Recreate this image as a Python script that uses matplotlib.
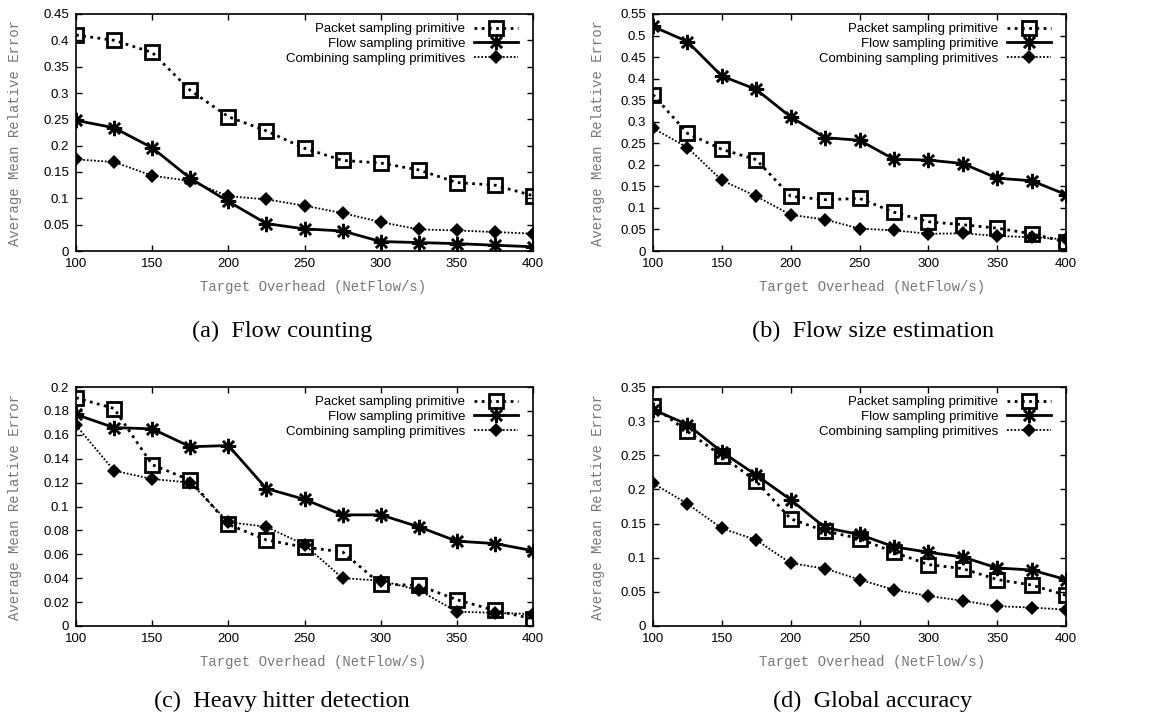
import numpy as np
import matplotlib
matplotlib.use("Agg")
import matplotlib.pyplot as plt

overhead = [100, 125, 150, 175, 200, 225, 250, 275, 300, 325, 350, 375, 400]

# (a) Flow counting
a_packet = [0.410, 0.400, 0.377, 0.305, 0.255, 0.228, 0.195, 0.172, 0.167, 0.154, 0.130, 0.125, 0.105]
a_flow = [0.248, 0.234, 0.196, 0.138, 0.094, 0.052, 0.042, 0.038, 0.018, 0.016, 0.014, 0.011, 0.008]
a_comb = [0.174, 0.169, 0.143, 0.133, 0.104, 0.098, 0.086, 0.072, 0.055, 0.041, 0.039, 0.036, 0.033]

# (b) Flow size estimation
b_packet = [0.363, 0.273, 0.236, 0.212, 0.127, 0.119, 0.122, 0.090, 0.068, 0.061, 0.053, 0.040, 0.021]
b_flow = [0.521, 0.486, 0.406, 0.375, 0.311, 0.263, 0.257, 0.213, 0.211, 0.203, 0.169, 0.163, 0.131]
b_comb = [0.285, 0.240, 0.164, 0.127, 0.084, 0.073, 0.052, 0.048, 0.040, 0.041, 0.035, 0.032, 0.027]

# (c) Heavy hitter detection
c_packet = [0.191, 0.182, 0.135, 0.122, 0.085, 0.072, 0.066, 0.062, 0.035, 0.034, 0.022, 0.013, 0.006]
c_flow = [0.177, 0.166, 0.165, 0.150, 0.151, 0.115, 0.106, 0.093, 0.093, 0.083, 0.071, 0.069, 0.063]
c_comb = [0.168, 0.130, 0.123, 0.120, 0.087, 0.083, 0.068, 0.040, 0.038, 0.030, 0.012, 0.011, 0.010]

# (d) Global accuracy
d_packet = [0.322, 0.285, 0.249, 0.212, 0.157, 0.139, 0.128, 0.108, 0.090, 0.084, 0.068, 0.060, 0.045]
d_flow = [0.317, 0.295, 0.255, 0.221, 0.185, 0.144, 0.134, 0.116, 0.108, 0.101, 0.085, 0.082, 0.068]
d_comb = [0.209, 0.179, 0.143, 0.126, 0.092, 0.084, 0.068, 0.053, 0.044, 0.037, 0.029, 0.027, 0.024]

labels = ["Packet sampling primitive", "Flow sampling primitive", "Combining sampling primitives"]
captions = ["(a)  Flow counting", "(b)  Flow size estimation",
            "(c)  Heavy hitter detection", "(d)  Global accuracy"]

panels = [
    (a_packet, a_flow, a_comb, 0.45, 0.05),
    (b_packet, b_flow, b_comb, 0.55, 0.05),
    (c_packet, c_flow, c_comb, 0.20, 0.02),
    (d_packet, d_flow, d_comb, 0.35, 0.05),
]

W, H = 1159, 720
fig = plt.figure(figsize=(W / 100, H / 100), dpi=100)

# axes boxes in pixels: left, right, top, bottom
boxes = [(76, 533, 14, 251), (653, 1066, 14, 251),
         (76, 533, 387, 626), (653, 1066, 387, 626)]
ylabel_x = [15, 598, 15, 598]
xlabel_xy = [(313, 287), (872, 287), (313, 662), (872, 662)]
caption_xy = [(282, 331), (873, 331), (282, 701), (873, 701)]

tick_font = "Liberation Sans"
mono_font = "Liberation Mono"
serif_font = "Liberation Serif"

for i, (packet, flow, comb, ymax, ystep) in enumerate(panels):
    l, r, t, b = boxes[i]
    w, h = r - l, b - t
    ax = fig.add_axes([l / W, 1 - b / H, w / W, h / H])

    ax.plot(overhead, packet, color="black", linestyle=(0, (1, 1.6)), linewidth=2.0,
            marker="s", markersize=9.5, markerfacecolor="none", markeredgewidth=2.0,
            label=labels[0])
    ax.plot(overhead, flow, color="black", linestyle="-", linewidth=2.0,
            marker=(8, 2, 0), markersize=11, markeredgewidth=1.8, label=labels[1])
    ax.plot(overhead, comb, color="black", linestyle=(0, (1, 1)), linewidth=1.3,
            marker="D", markersize=7, markeredgewidth=0, label=labels[2])

    ax.set_xlim(100, 400)
    ax.set_ylim(0, ymax)
    ax.set_xticks(np.arange(100, 401, 50))
    yt = np.arange(0, ymax + ystep / 2, ystep)
    ax.set_yticks(yt)
    ax.set_yticklabels(["{:g}".format(round(v, 3)) for v in yt])
    ax.tick_params(direction="in", top=True, right=True, length=4, width=1.0,
                   labelsize=9.5, pad=5)
    for lab in ax.get_xticklabels() + ax.get_yticklabels():
        lab.set_fontfamily(tick_font)
    for s in ax.spines.values():
        s.set_linewidth(1.2)

    # axis labels placed at measured pixel positions
    xl_x, xl_y = xlabel_xy[i]
    ax.set_xlabel("Target Overhead (NetFlow/s)", fontfamily=mono_font, fontsize=10,
                  color="#777777", va="center")
    ax.xaxis.set_label_coords((xl_x - l) / w, (b - xl_y) / h)
    ax.set_ylabel("Average Mean Relative Error", fontfamily=mono_font, fontsize=10,
                  color="#777777", va="center")
    ax.yaxis.set_label_coords((ylabel_x[i] - l) / w, 0.5)

    ax.legend(loc="upper right", frameon=False, markerfirst=False,
              prop={"family": tick_font, "size": 9.5}, handlelength=3.3,
              handletextpad=0.7, labelspacing=0.2, borderpad=0, borderaxespad=0,
              bbox_to_anchor=((w - 15) / w, (h - 9) / h))

    cx, cy = caption_xy[i]
    fig.text(cx / W, 1 - cy / H, captions[i], fontfamily=serif_font, fontsize=17.5,
             ha="center", va="center")

fig.savefig("out.png", dpi=100)
